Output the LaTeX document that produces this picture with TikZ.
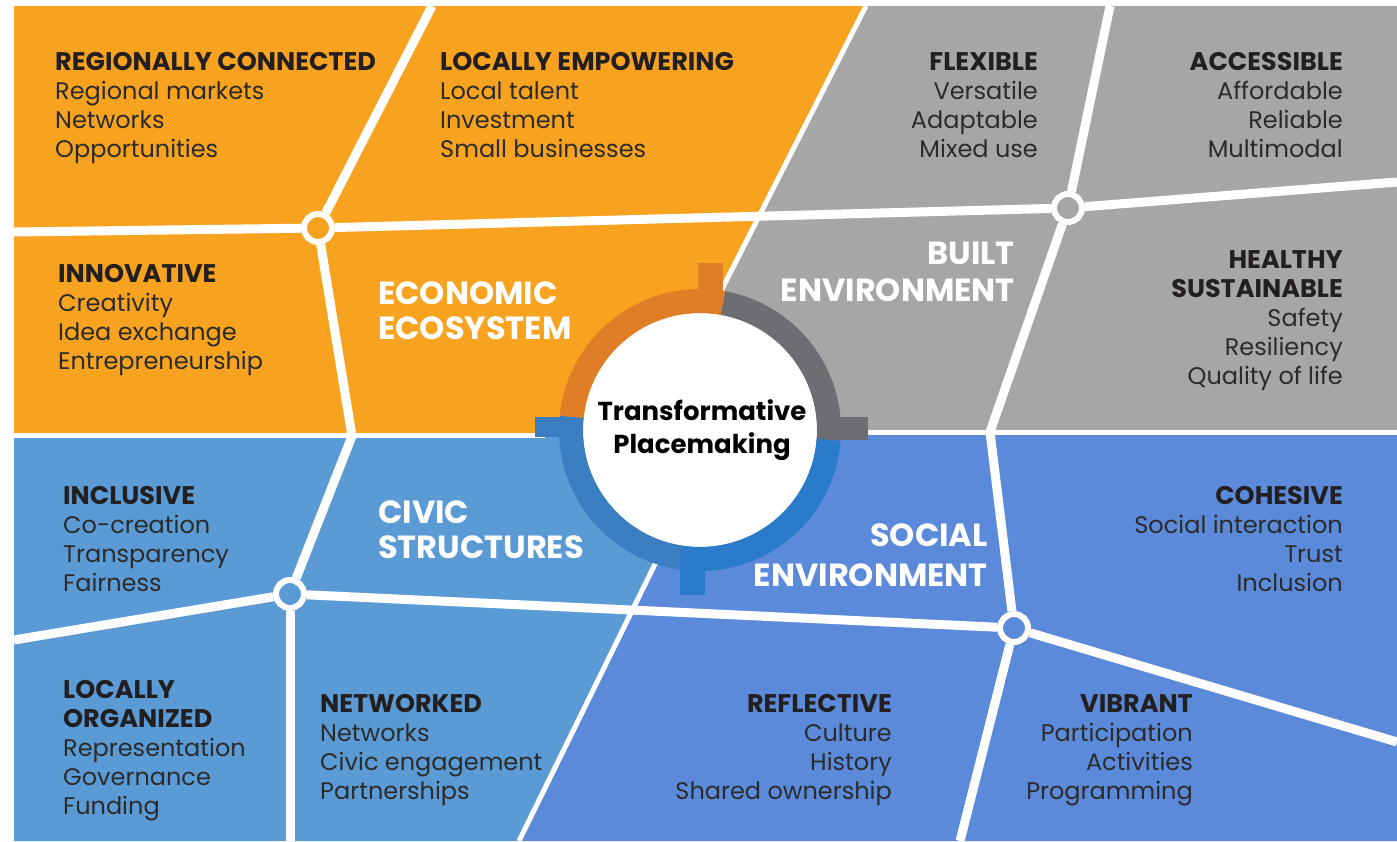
\documentclass[tikz,border=0pt]{standalone}
\usepackage{fontspec}
\setmainfont{Poppins}
\definecolor{orng}{HTML}{F7A320}
\definecolor{gry}{HTML}{A6A6A7}
\definecolor{civ}{HTML}{5B9BD5}
\definecolor{soc}{HTML}{5B8ADA}
\definecolor{rorng}{HTML}{E07E27}
\definecolor{rgry}{HTML}{6D6E71}
\definecolor{rciv}{HTML}{3A7EC1}
\definecolor{rsoc}{HTML}{2A7CCA}
\definecolor{ink}{HTML}{231F20}
\definecolor{bodyink}{HTML}{2B2B2B}
\newcommand{\hd}[1]{{\bfseries\color{ink}\fontsize{25.5}{29}\selectfont #1}}
\begin{document}
\begin{tikzpicture}[x=1pt,y=-1pt,
  road/.style={white,line width=9pt,line join=round},
  wline/.style={white,line width=5pt},
  junction/.style={circle,draw=white,line width=6pt,minimum size=28pt,inner sep=0pt},
  blk/.style={inner sep=0pt,text=bodyink,font=\fontsize{24}{29}\selectfont},
  blkl/.style={blk,anchor=base west,align=left},
  blkr/.style={blk,anchor=base east,align=right},
  quad/.style={inner sep=0pt,text=white,font=\bfseries\fontsize{32}{35}\selectfont}]
\useasboundingbox (0,0) rectangle (1397,841);
% regions
\fill[orng] (14,6) -- (866,6) -- (648,433) -- (648,435) -- (14,435) -- cycle;
\fill[gry] (866,6) -- (1397,6) -- (1397,433) -- (648,433) -- cycle;
\fill[civ] (14,435) -- (718,435) -- (519,841) -- (14,841) -- cycle;
\fill[soc] (718,433) -- (1397,433) -- (1397,841) -- (519,841) -- cycle;
% boundary lines
\draw[wline] (866,6) -- (721,291);
\draw[wline] (519,841) -- (657,560);
\draw[wline] (14,435) -- (545,435);
\draw[wline] (855,432) -- (1397,432);
% junctions
\node[junction,fill=orng] (A) at (318,228) {};
\node[junction,fill=gry] (B) at (1068,208) {};
\node[junction,fill=civ] (C) at (290,594) {};
\node[junction,fill=soc] (D) at (1014,628) {};
% free ends
\coordinate (aL) at (14,232);
\coordinate (aT) at (432,6);
\coordinate (aK) at (352,436);
\coordinate (bT) at (1110,6);
\coordinate (bR) at (1397,182);
\coordinate (bK) at (990,432);
\coordinate (cL) at (14,640);
\coordinate (cB) at (290,841);
\coordinate (dR) at (1397,742);
\coordinate (dB) at (960,841);
% roads
\draw[road] (A) -- (aL);
\draw[road] (A) -- (aT);
\draw[road] (A) -- (B);
\draw[road] (A) -- (aK) -- (C);
\draw[road] (B) -- (bT);
\draw[road] (B) -- (bR);
\draw[road] (B) -- (bK) -- (D);
\draw[road] (C) -- (cL);
\draw[road] (C) -- (cB);
\draw[road] (C) -- (D);
\draw[road] (D) -- (dR);
\draw[road] (D) -- (dB);
% hub ring
\node[circle,fill=white,minimum size=234pt,inner sep=0pt] (hub) at (700,430) {};
\draw[rorng,line width=24pt] (hub.center) ++(185.8:129) arc[start angle=185.8,end angle=280.3,radius=129];
\draw[rgry,line width=24pt] (hub.center) ++(280.3:129) arc[start angle=280.3,end angle=364.4,radius=129];
\draw[rsoc,line width=24pt] (hub.center) ++(4.4:129) arc[start angle=4.4,end angle=98.9,radius=129];
\draw[rciv,line width=24pt] (hub.center) ++(98.9:129) arc[start angle=98.9,end angle=185.8,radius=129];
\fill[rorng] (698,263) rectangle (723,300);
\fill[rgry] (830,417) rectangle (868,440);
\fill[rsoc] (680,560) rectangle (705,595);
\fill[rciv] (535,417) rectangle (570,437);
\node[inner sep=0pt,align=center,text=black,font=\bfseries\fontsize{26}{33}\selectfont] (title) at (702,430) {Transformative\\Placemaking};
% quadrant titles
\node[quad,anchor=base west,align=left] (eco) at (378,339) {ECONOMIC\\ECOSYSTEM};
\node[quad,anchor=base east,align=right,font=\bfseries\fontsize{32}{37}\selectfont] (built) at (1015,301) {BUILT\\ENVIRONMENT};
\node[quad,anchor=base west,align=left] (civic) at (378,558) {CIVIC\\STRUCTURES};
\node[quad,anchor=base east,align=right,font=\bfseries\fontsize{32}{40}\selectfont] (social) at (988,586) {SOCIAL\\ENVIRONMENT};
% blocks
\node[blkl] (t1) at (55,157) {\hd{REGIONALLY CONNECTED}\\Regional markets\\Networks\\Opportunities};
\node[blkl] (t2) at (440,157) {\hd{LOCALLY EMPOWERING}\\Local talent\\Investment\\Small businesses};
\node[blkr] (t3) at (1038,157) {\hd{FLEXIBLE}\\Versatile\\Adaptable\\Mixed use};
\node[blkr] (t4) at (1343,157) {\hd{ACCESSIBLE}\\Affordable\\Reliable\\Multimodal};
\node[blkl] (t5) at (58,369) {\hd{INNOVATIVE}\\Creativity\\Idea exchange\\Entrepreneurship};
\node[blkr] (t6) at (1343,384) {\hd{HEALTHY}\\\hd{SUSTAINABLE}\\Safety\\Resiliency\\Quality of life};
\node[blkl] (t7) at (63,591) {\hd{INCLUSIVE}\\Co-creation\\Transparency\\Fairness};
\node[blkl] (t8) at (63,814) {\hd{LOCALLY}\\\hd{ORGANIZED}\\Representation\\Governance\\Funding};
\node[blkl] (t9) at (320,799) {\hd{NETWORKED}\\Networks\\Civic engagement\\Partnerships};
\node[blkr] (t10) at (892,799) {\hd{REFLECTIVE}\\Culture\\History\\Shared ownership};
\node[blkr] (t11) at (1193,799) {\hd{VIBRANT}\\Participation\\Activities\\Programming};
\node[blkr] (t12) at (1343,591) {\hd{COHESIVE}\\Social interaction\\Trust\\Inclusion};
\end{tikzpicture}
\end{document}
